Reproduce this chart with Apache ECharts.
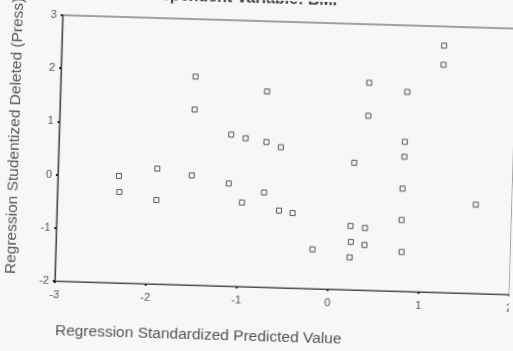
<!DOCTYPE html>
<html>
<head>
<meta charset="utf-8">
<script src="https://cdn.jsdelivr.net/npm/echarts@6/dist/echarts.min.js"></script>
<style>
html,body{margin:0;padding:0;background:#f6f7f9;overflow:hidden;}
#wrap{width:513px;height:351px;overflow:hidden;background:#f6f7f9;}
#chart{width:513px;height:351px;transform:rotate(1.7deg);transform-origin:256.5px 175.5px;}
</style>
</head>
<body>
<div id="wrap"><div id="chart"></div></div>
<script>
// Regression Standardized Predicted Value (x)
var predicted = [-2.33,-2.32,-1.91,-1.91,-1.52,-1.52,-1.53,-1.11,-1.12,-0.95,-0.97,-0.73,-0.72,-0.73,-0.56,-0.56,-0.41,-0.18,0.25,0.23,0.24,0.23,0.39,0.39,0.39,0.39,0.81,0.80,0.80,0.79,0.79,0.80,1.20,1.20,1.60];
// Regression Studentized Deleted (Press) Residual (y)
var deleted = [0.01,-0.29,0.17,-0.42,1.92,1.30,0.06,0.85,-0.07,0.79,-0.42,1.68,0.73,-0.22,0.64,-0.55,-0.59,-1.26,0.39,-0.80,-1.10,-1.39,1.90,1.28,-0.83,-1.15,1.75,0.81,0.53,-0.07,-0.66,-1.26,2.64,2.28,-0.33];
var xTicks = [-3,-2,-1,0,1,2];
var yTicks = [-2,-1,0,1,2,3];
var titleText = 'Dependent Variable: BMI';
var xName = 'Regression Standardized Predicted Value';
var yName = 'Regression Studentized Deleted (Press)';

var pts = predicted.map(function(v,i){return [v, deleted[i]];});
var chart = echarts.init(document.getElementById('chart'), null, {renderer:'canvas'});
var axisCol = '#4a4a4a';
var txtCol = '#555';
chart.setOption({
  animation:false,
  backgroundColor:'transparent',
  grid:{left:58, top:21, width:455, height:266, show:true, borderColor:axisCol, borderWidth:1, backgroundColor:'transparent', containLabel:false, outerBoundsMode:'none'},
  xAxis:{type:'value', min:xTicks[0], max:xTicks[xTicks.length-1], interval:1,
    axisLine:{show:true, onZero:false, lineStyle:{color:axisCol, width:1.2}},
    axisTick:{show:true, length:2, inside:false, lineStyle:{color:'#222', width:2}},
    axisLabel:{color:txtCol, fontSize:11, fontFamily:'Liberation Sans, Arial', margin:8},
    splitLine:{show:false}},
  yAxis:{type:'value', min:yTicks[0], max:yTicks[yTicks.length-1], interval:1,
    axisLine:{show:true, onZero:false, lineStyle:{color:axisCol, width:1.2}},
    axisTick:{show:true, length:2, inside:false, lineStyle:{color:'#222', width:2}},
    axisLabel:{color:txtCol, fontSize:11, fontFamily:'Liberation Sans, Arial', margin:6},
    splitLine:{show:false}},
  graphic:[
    {type:'text', x:332, y:7, style:{text:titleText, fill:'#444', font:'bold 16px "Liberation Sans", Arial', textAlign:'right', textVerticalAlign:'bottom'}},
    {type:'text', x:203, y:337, style:{text:xName, fill:txtCol, font:'15.5px "Liberation Sans", Arial', textAlign:'center', textVerticalAlign:'middle'}},
    {type:'text', x:14, y:143, rotation:Math.PI/2, style:{text:yName, fill:txtCol, font:'15.5px "Liberation Sans", Arial', textAlign:'center', textVerticalAlign:'middle'}}
  ],
  series:[{type:'scatter', data:pts, symbol:'rect', symbolSize:5,
    itemStyle:{color:'#f5f6f8', borderColor:'#555', borderWidth:1, opacity:1}}]
});
</script>
</body>
</html>
